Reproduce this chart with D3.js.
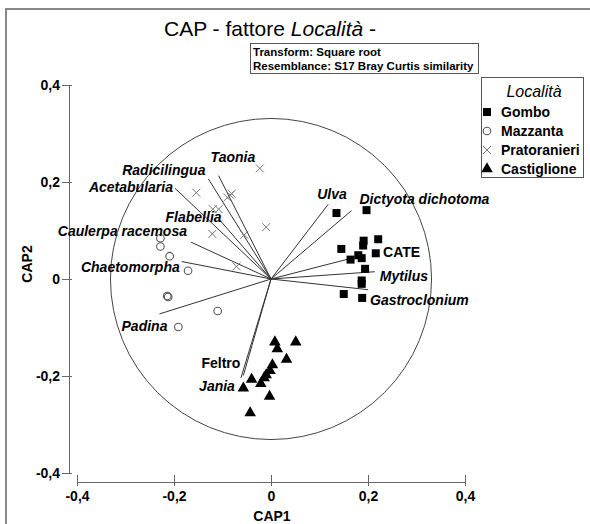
<!DOCTYPE html>
<html>
<head>
<meta charset="utf-8">
<script src="https://cdn.jsdelivr.net/npm/d3@7"></script>
<style>
body { margin: 0; background: #fff; }
svg { display: block; font-family: "Liberation Sans", Arial, sans-serif; }
</style>
</head>
<body>
<div id="chart"></div>
<script>
// sample scores (CAP1, CAP2) per locality
var gombo = [[0.135,0.136],[0.197,0.142],[0.221,0.082],[0.191,0.079],[0.190,0.069],[0.145,0.062],
    [0.216,0.053],[0.180,0.049],[0.164,0.040],[0.187,0.043],[0.194,0.021],[0.187,-0.003],
    [0.187,-0.010],[0.150,-0.031],[0.188,-0.039]];
var mazzanta = [[-0.228,0.084],[-0.228,0.067],[-0.209,0.047],[-0.171,0.017],[-0.214,-0.035],
    [-0.212,-0.037],[-0.110,-0.066],[-0.191,-0.099]];
var pratoranieri = [[-0.023,0.228],[-0.154,0.178],[-0.084,0.173],[-0.090,0.168],[-0.081,0.176],
    [-0.120,0.144],[-0.108,0.144],[-0.010,0.107],[-0.121,0.093],[-0.055,0.091],[-0.071,0.026]];
var castiglione = [[0.008,-0.130],[0.051,-0.130],[0.013,-0.144],[0.032,-0.166],[0.003,-0.177],
    [-0.002,-0.189],[-0.010,-0.198],[-0.040,-0.207],[-0.014,-0.204],[-0.021,-0.216],
    [-0.057,-0.225],[-0.003,-0.242],[-0.043,-0.276]];

var groupNames = ["Gombo", "Mazzanta", "Pratoranieri", "Castiglione"];

// vector overlay
var vectorNames = ["Acetabularia","Radicilingua","Taonia","Flabellia","Caulerpa racemosa","Chaetomorpha",
    "Padina","Ulva","Dictyota dichotoma","CATE","Mytilus","Gastroclonium","Feltro","Jania"];
var vectorX = [-0.198,-0.129,-0.108,-0.106,-0.165,-0.184,-0.230,0.118,0.166,0.159,0.214,0.200,-0.057,-0.062];
var vectorY = [0.187,0.206,0.213,0.122,0.076,0.036,-0.072,0.154,0.141,0.041,0.015,-0.022,-0.199,-0.204];
var circleR = 0.331;

var ticks = [-0.4, -0.2, 0, 0.2, 0.4];

// label placement relative to the vector tip (px)
var labelPos = {
    "Acetabularia": [-2, 4, "end"], "Radicilingua": [-3, -4, "end"], "Taonia": [-8, -14, "start"],
    "Flabellia": [2, 2, "end"], "Caulerpa racemosa": [-4, -6, "end"], "Chaetomorpha": [-2, 10, "end"],
    "Padina": [8, 17, "end"], "Ulva": [-11, -5, "start"], "Dictyota dichotoma": [8, -7, "start"],
    "CATE": [35, -2, "start"], "Mytilus": [5, 9, "start"], "Gastroclonium": [2, 15, "start"],
    "Feltro": [-3, -8, "end"], "Jania": [-6, 13, "end"]
};
var upright = ["CATE", "Feltro"];

var W = 590, H = 524;
var svg = d3.select("#chart").append("svg").attr("width", W).attr("height", H);

// outer frame
svg.append("rect").attr("x", 6).attr("y", 9).attr("width", 600).attr("height", 600)
    .attr("fill", "none").attr("stroke", "#888").attr("stroke-width", 2);

var x = d3.scaleLinear().domain([-0.4, 0.4]).range([77, 465]);
var y = d3.scaleLinear().domain([-0.4, 0.4]).range([473, 85]);

var fmt = function(d){ return d === 0 ? "0" : d3.format(".1f")(d).replace(".", ",").replace("\u2212", "-"); };

var xAxis = svg.append("g").attr("transform", "translate(0,482)")
    .call(d3.axisBottom(x).tickValues(ticks).tickFormat(fmt).tickSizeOuter(0));
xAxis.selectAll(".tick line").attr("y1", -7).attr("y2", 4);
xAxis.selectAll(".tick text").attr("y", 9);

var yAxis = svg.append("g").attr("transform", "translate(69,0)")
    .call(d3.axisLeft(y).tickValues(ticks).tickFormat(fmt).tickSizeOuter(0));
yAxis.selectAll(".tick line").attr("x1", -7).attr("x2", 3);
yAxis.selectAll(".tick text").attr("x", -9);

svg.selectAll(".domain, .tick line").attr("stroke", "#666");
svg.selectAll(".tick text").attr("font-family", "Liberation Sans, Arial, sans-serif")
    .attr("font-size", 14).attr("font-weight", "bold").attr("fill", "#000");

svg.append("text").attr("x", 272).attr("y", 521).attr("text-anchor", "middle")
    .attr("font-size", 14).attr("font-weight", "bold").text("CAP1");
svg.append("text").attr("transform", "translate(32,264) rotate(-90)").attr("text-anchor", "middle")
    .attr("font-size", 14).attr("font-weight", "bold").text("CAP2");

// title
var title = svg.append("text").attr("x", 270).attr("y", 36).attr("text-anchor", "middle")
    .attr("font-size", 21);
title.append("tspan").text("CAP - fattore ");
title.append("tspan").attr("font-style", "italic").text("Località");
title.append("tspan").text(" -");

// info box
svg.append("rect").attr("x", 250.5).attr("y", 43.5).attr("width", 228).attr("height", 30)
    .attr("fill", "#fff").attr("stroke", "#555");
svg.append("text").attr("x", 253).attr("y", 56).attr("font-size", 11.5).attr("font-weight", "bold")
    .text("Transform: Square root");
svg.append("text").attr("x", 253).attr("y", 70).attr("font-size", 11.5).attr("font-weight", "bold")
    .text("Resemblance: S17 Bray Curtis similarity");

// correlation circle and vectors
svg.append("ellipse").attr("cx", x(0)).attr("cy", y(0))
    .attr("rx", x(circleR) - x(0)).attr("ry", y(0) - y(circleR))
    .attr("fill", "none").attr("stroke", "#444").attr("stroke-width", 1);

svg.selectAll(".vec").data(vectorNames).enter().append("line").attr("class", "vec")
    .attr("x1", x(0)).attr("y1", y(0))
    .attr("x2", function(d, i){ return x(vectorX[i]); })
    .attr("y2", function(d, i){ return y(vectorY[i]); })
    .attr("stroke", "#333").attr("stroke-width", 1);

// points
var sq = d3.symbol().type(d3.symbolSquare).size(64);
var tri = d3.symbol().type(d3.symbolTriangle).size(58);

svg.selectAll(".gombo").data(gombo).enter().append("path").attr("class", "gombo")
    .attr("d", sq).attr("transform", function(d){ return "translate(" + x(d[0]) + "," + y(d[1]) + ")"; })
    .attr("fill", "#000");
svg.selectAll(".mazz").data(mazzanta).enter().append("circle").attr("class", "mazz")
    .attr("cx", function(d){ return x(d[0]); }).attr("cy", function(d){ return y(d[1]); })
    .attr("r", 3.8).attr("fill", "none").attr("stroke", "#555").attr("stroke-width", 1.1);
svg.selectAll(".prat").data(pratoranieri).enter().append("path").attr("class", "prat")
    .attr("d", "M-4,-4L4,4M-4,4L4,-4")
    .attr("transform", function(d){ return "translate(" + x(d[0]) + "," + y(d[1]) + ")"; })
    .attr("stroke", "#777").attr("stroke-width", 1).attr("fill", "none");
svg.selectAll(".cast").data(castiglione).enter().append("path").attr("class", "cast")
    .attr("d", tri).attr("transform", function(d){ return "translate(" + x(d[0]) + "," + y(d[1]) + ")"; })
    .attr("fill", "#000");

// vector labels
svg.selectAll(".vlab").data(vectorNames).enter().append("text").attr("class", "vlab")
    .attr("x", function(d, i){ return x(vectorX[i]) + labelPos[d][0]; })
    .attr("y", function(d, i){ return y(vectorY[i]) + labelPos[d][1]; })
    .attr("text-anchor", function(d){ return labelPos[d][2]; })
    .attr("font-size", 14).attr("font-weight", "bold")
    .attr("font-style", function(d){ return upright.indexOf(d) >= 0 ? "normal" : "italic"; })
    .text(function(d){ return d; });

// legend
var lg = svg.append("g").attr("transform", "translate(481,77)");
lg.append("rect").attr("x", 0.5).attr("y", 0.5).attr("width", 102).attr("height", 100)
    .attr("fill", "#fff").attr("stroke", "#555");
lg.append("text").attr("x", 53).attr("y", 20).attr("text-anchor", "middle")
    .attr("font-size", 16).attr("font-style", "italic").text("Località");
var markers = [
    function(g){ g.append("path").attr("d", sq).attr("fill", "#000"); },
    function(g){ g.append("circle").attr("r", 3.8).attr("fill", "none").attr("stroke", "#555").attr("stroke-width", 1.1); },
    function(g){ g.append("path").attr("d", "M-4,-4L4,4M-4,4L4,-4").attr("stroke", "#777").attr("fill", "none"); },
    function(g){ g.append("path").attr("d", tri).attr("fill", "#000"); }
];
groupNames.forEach(function(name, i){
    var row = lg.append("g").attr("transform", "translate(0," + (35 + i * 19) + ")");
    markers[i](row.append("g").attr("transform", "translate(6,0)"));
    row.append("text").attr("x", 20).attr("y", 5).attr("font-size", 14).attr("font-weight", "bold").text(name);
});
</script>
</body>
</html>
